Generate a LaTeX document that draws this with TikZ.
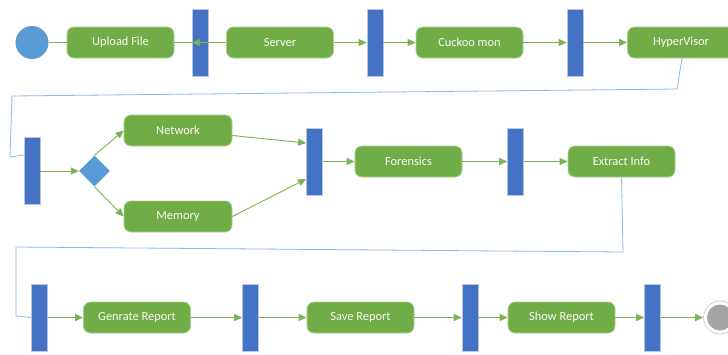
\documentclass[tikz,border=0pt]{standalone}
\usepackage{fontspec}
\setmainfont{Carlito}
\usetikzlibrary{arrows.meta,shapes.geometric}
\definecolor{gbox}{HTML}{70AD47}
\definecolor{gedge}{HTML}{A9D18E}
\definecolor{gline}{HTML}{7DB356}
\definecolor{bbar}{HTML}{4472C4}
\definecolor{bedge}{HTML}{B4C7E7}
\definecolor{bstart}{HTML}{5B9BD5}
\definecolor{bline}{HTML}{8EB8E2}
\definecolor{gend}{HTML}{A5A5A5}
\tikzset{
  actbox/.style={draw=gedge, line width=0.7pt, fill=gbox, rounded corners=7pt,
    minimum width=107pt, minimum height=31pt, inner sep=0pt,
    text=white!95!gray, font=\fontsize{12.4}{14}\selectfont},
  barbox/.style={draw=bedge, line width=0.6pt, fill=bbar, minimum width=16pt,
    minimum height=67pt, inner sep=0pt},
  arr/.style={draw=gline, line width=0.9pt, -{Triangle[length=8pt,width=7pt]}},
  plain/.style={draw=gline, line width=0.9pt},
  bluelink/.style={draw=bline, line width=0.8pt},
}
\begin{document}
\begin{tikzpicture}[x=1pt,y=-1pt]
\clip (0,0) rectangle (728,354);
\fill[white] (0,0) rectangle (728,354);
% row 1
\node[circle, fill=bstart, minimum size=33pt, inner sep=0pt] (start) at (32,42.5) {};
\node[actbox] (upload) at (120.5,42.5) {Upload File};
\node[barbox] (bar1) at (200,42.5) {};
\node[actbox] (server) at (280,42.5) {Server};
\node[barbox] (bar2) at (375,42.5) {};
\node[actbox] (cuckoo) at (469.5,42.5) {Cuckoo mon};
\node[barbox] (bar3) at (575,42.5) {};
\node[actbox] (hyper) at (681,42.5) {HyperVisor};
% row 2
\node[barbox] (bar4) at (32,171) {};
\node[diamond, fill=bstart, minimum width=31pt, minimum height=31pt, inner sep=0pt] (dia) at (94.5,171) {};
\node[actbox, minimum width=108pt] (net) at (178,130.5) {Network};
\node[actbox, minimum width=108pt] (mem) at (178,216.5) {Memory};
\node[barbox] (bar5) at (314.5,161.5) {};
\node[actbox] (foren) at (408.5,161.5) {Forensics};
\node[barbox] (bar6) at (515.5,161.5) {};
\node[actbox] (extract) at (621.5,161.5) {Extract Info};
% row 3
\node[barbox] (bar7) at (39.5,317.5) {};
\node[actbox] (gen) at (137,317.5) {Genrate Report};
\node[barbox] (bar8) at (250.5,317.5) {};
\node[actbox] (save) at (360.5,317.5) {Save Report};
\node[barbox] (bar9) at (470,317.5) {};
\node[actbox] (show) at (561.5,317.5) {Show Report};
\node[barbox] (bar10) at (652.5,317.5) {};
\node[circle, draw=gray!45, line width=0.6pt, fill=white, minimum size=33pt, inner sep=0pt] (endc) at (720,317.5) {};
\node[circle, fill=gend, minimum size=26pt, inner sep=0pt] (endin) at (720,317.5) {};
% connectors row 1
\draw[plain] (upload.west) -- (start.east);
\draw[plain] (bar1.east) -- (upload.east);
\draw[arr] (server.west) -- (bar1.west);
\draw[arr] (server.east) -- (bar2.west);
\draw[arr] (bar2.east) -- (cuckoo.west);
\draw[arr] (cuckoo.east) -- (bar3.west);
\draw[arr] (bar3.east) -- (hyper.west);
% link hyper -> bar4
\coordinate (h1) at (677,89);
\coordinate (h2) at (12,96);
\coordinate (h3) at (10,157);
\draw[bluelink] ([xshift=1pt]hyper.south) -- (h1) -- (h2) -- (h3) -- ([yshift=16pt]bar4.west);
% row 2 connectors
\draw[arr] (bar4.east) -- (dia.west);
\draw[arr] (dia.north) -- (net.west);
\draw[arr] (dia.south) -- (mem.west);
\draw[arr] ([yshift=-5pt]net.east) -- ([yshift=18.5pt]bar5.west);
\draw[arr] (mem.east) -- ([yshift=-17.5pt]bar5.west);
\draw[arr] (bar5.east) -- (foren.west);
\draw[arr] (foren.east) -- (bar6.west);
\draw[arr] (bar6.east) -- (extract.west);
% link extract -> bar7
\coordinate (e1) at (623,252);
\coordinate (e2) at (16,247);
\coordinate (e3) at (16,316);
\draw[bluelink] (extract.south) -- (e1) -- (e2) -- (e3) -- (bar7.west);
% row 3 connectors
\draw[arr] (bar7.east) -- (gen.west);
\draw[arr] (gen.east) -- (bar8.west);
\draw[arr] (bar8.east) -- (save.west);
\draw[arr] (save.east) -- (bar9.west);
\draw[arr] (bar9.east) -- (show.west);
\draw[arr] (show.east) -- (bar10.west);
\draw[arr] (bar10.east) -- (endc.west);
\end{tikzpicture}
\end{document}
